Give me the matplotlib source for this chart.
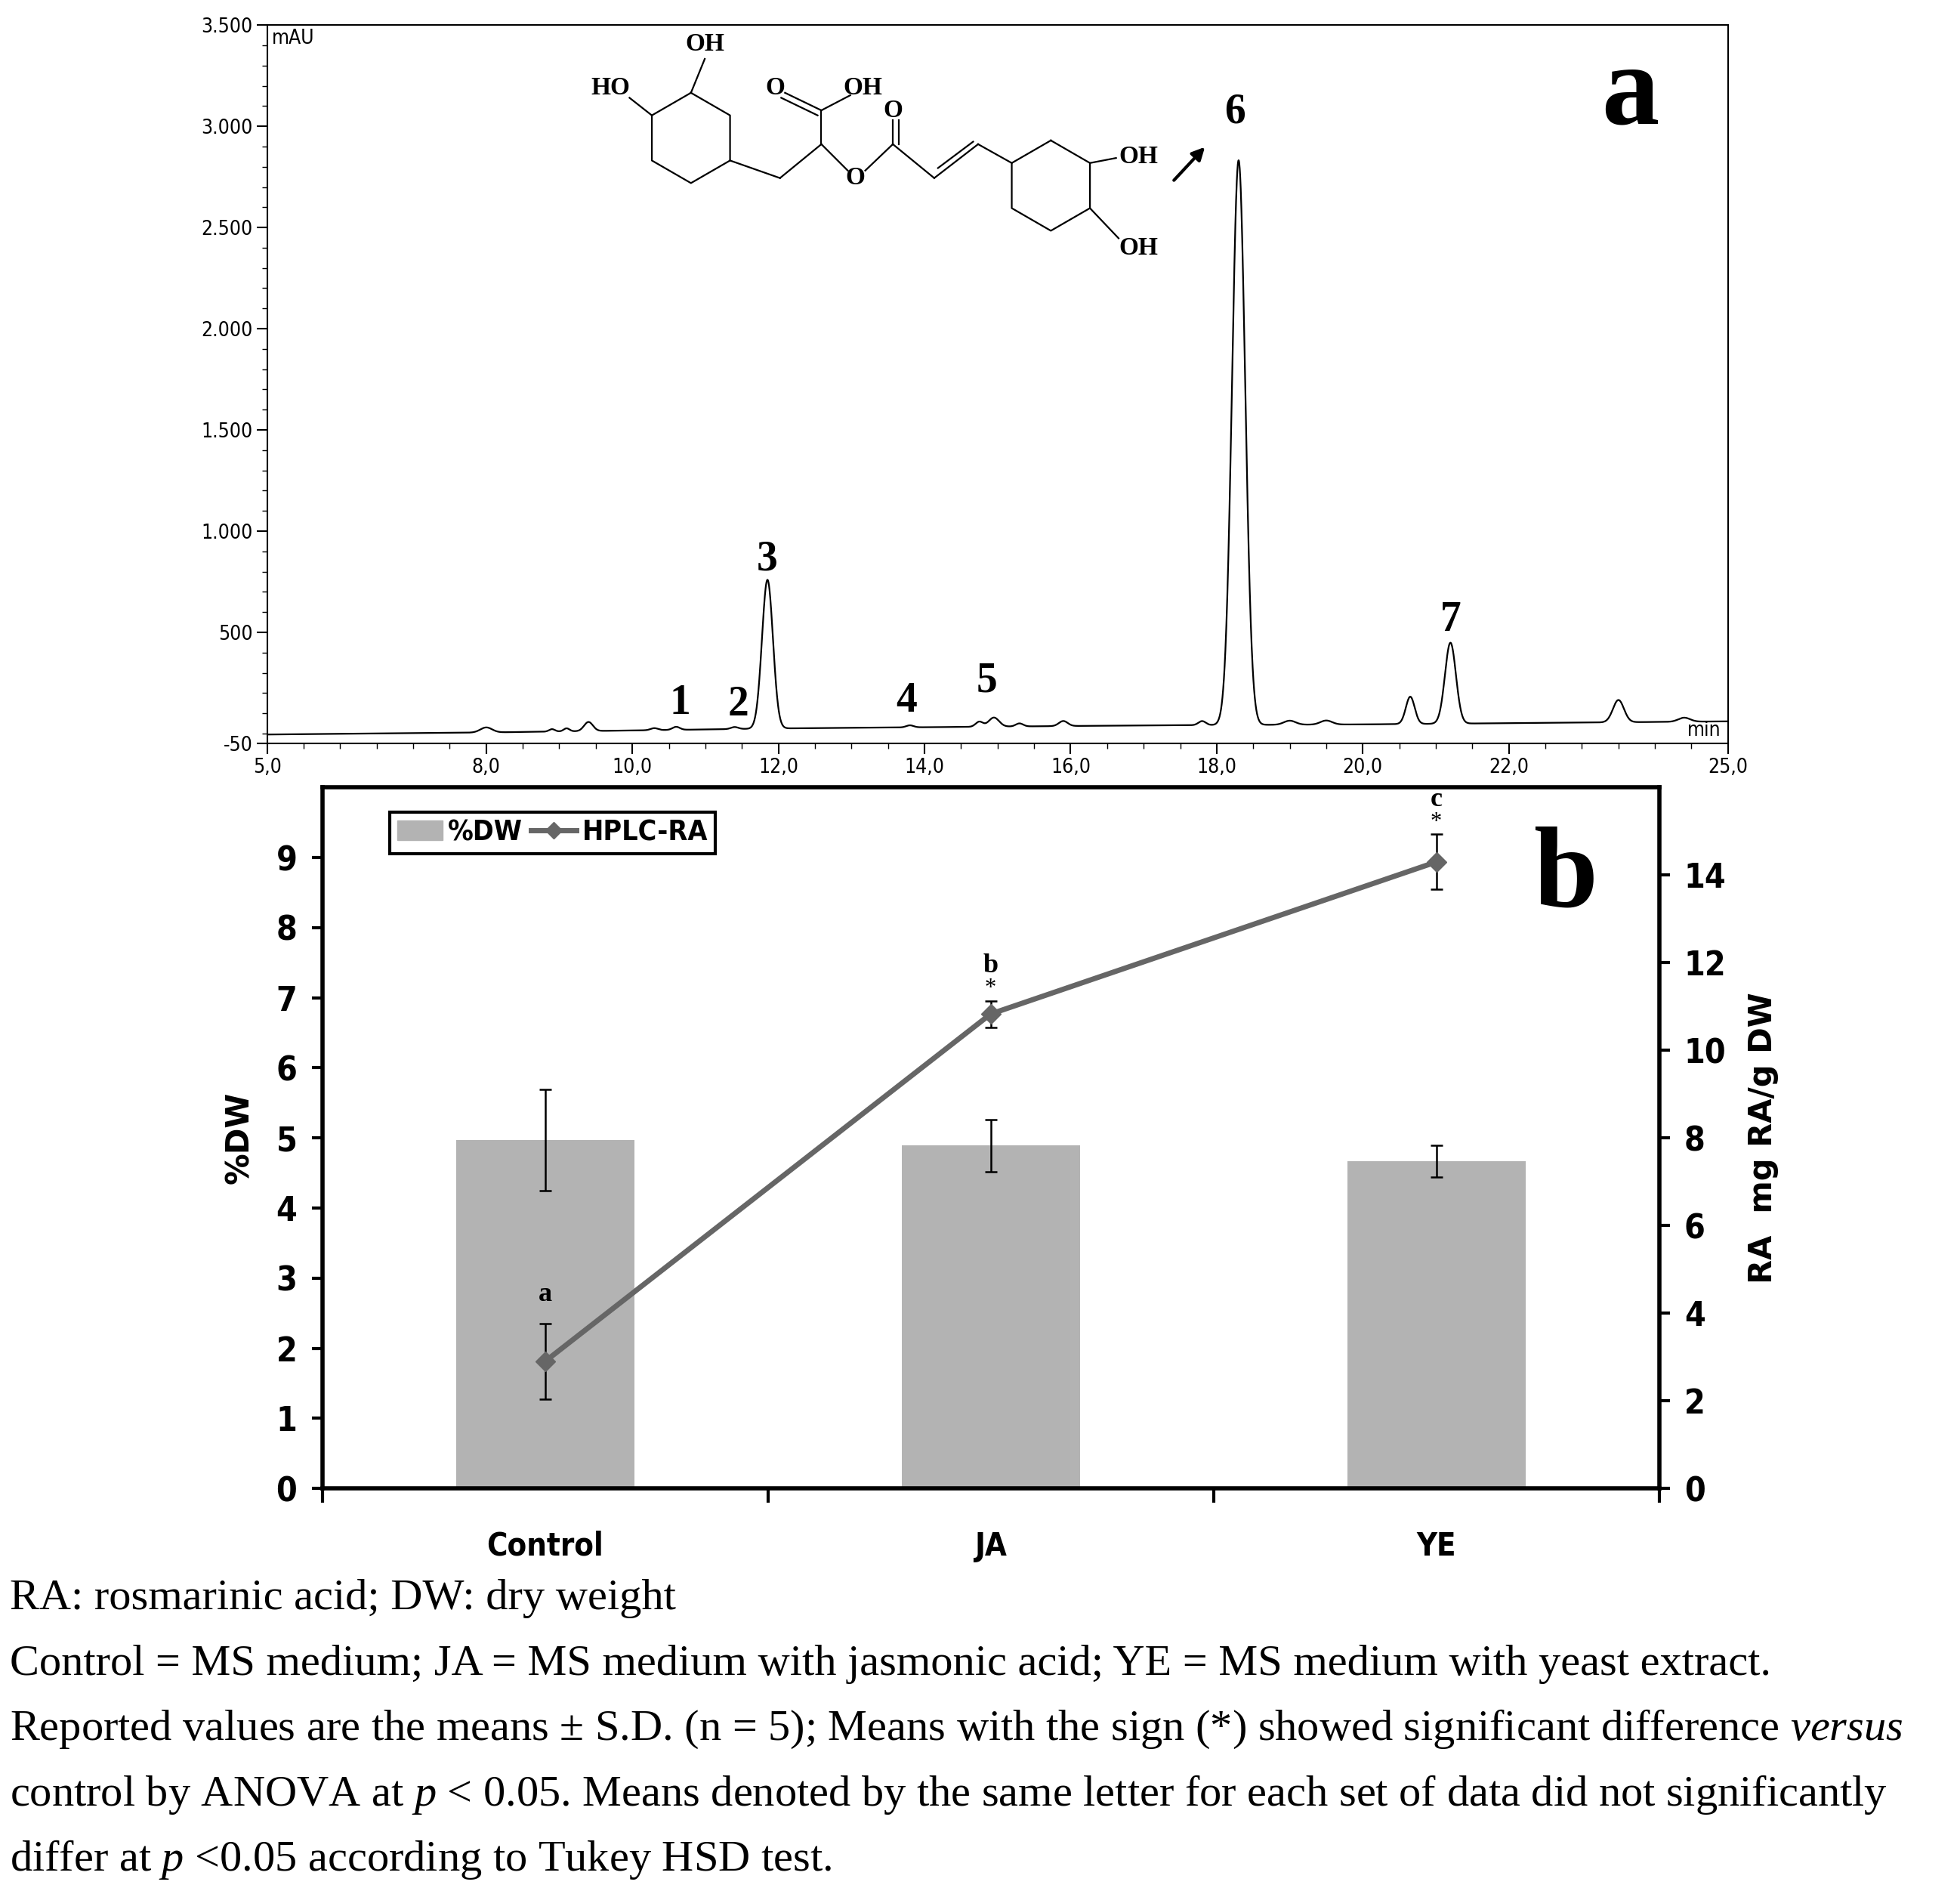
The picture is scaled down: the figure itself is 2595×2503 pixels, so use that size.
import numpy as np
import matplotlib.pyplot as plt
from matplotlib.patches import Patch
from matplotlib.lines import Line2D

plt.rcParams['mathtext.fontset'] = 'custom'
plt.rcParams['mathtext.rm'] = 'Liberation Serif'
plt.rcParams['mathtext.it'] = 'Liberation Serif:italic'

# --- chromatogram (panel a) ---
peak_time = [8.0, 8.9, 9.1, 9.4, 10.3, 10.6, 11.4, 11.85, 13.8, 14.75, 14.95, 15.3, 15.9,
             17.8, 18.3, 19.0, 19.5, 20.65, 21.2, 23.5, 24.4]
peak_height = [25, 12, 15, 45, 10, 15, 10, 735, 10, 25, 45, 15, 25,
               20, 2790, 20, 20, 135, 400, 110, 20]
peak_sigma = [0.08, 0.04, 0.04, 0.06, 0.05, 0.05, 0.05, 0.075, 0.05, 0.05, 0.07, 0.05, 0.06,
              0.05, 0.09, 0.08, 0.08, 0.06, 0.075, 0.075, 0.08]
base_time = [5.0, 8.0, 12.0, 17.0, 20.0, 25.0]
base_level = [-5, 5, 25, 40, 45, 60]
peak_labels = ['1', '2', '3', '4', '5', '6', '7']
label_time = [10.65, 11.45, 11.85, 13.75, 14.85, 18.25, 21.2]
label_level = [150, 140, 860, 160, 260, 3070, 560]

# --- bar / line data (panel b) ---
categories = ['Control', 'JA', 'YE']
dw_mean = [4.97, 4.89, 4.67]
dw_sd = [0.72, 0.37, 0.23]
ra_mean = [2.9, 10.83, 14.3]
ra_sd = [0.86, 0.3, 0.63]
ra_letters = ['a', 'b*', 'c*']

W, H = 2595, 2503
fig = plt.figure(figsize=(W / 100, H / 100), dpi=100)
DW, DH = 1563.0, 1508.0


def frac(x0, y0, x1, y1):
    return [x0 / DW, 1 - y1 / DH, (x1 - x0) / DW, (y1 - y0) / DH]


narrow = dict(fontfamily='DejaVu Sans', fontstretch='condensed')

ax = fig.add_axes(frac(213, 20, 1378, 593))
t = np.linspace(5, 25, 6000)
sig = np.interp(t, base_time, base_level)
for c, h, s in zip(peak_time, peak_height, peak_sigma):
    sig = sig + h * np.exp(-0.5 * ((t - c) / s) ** 2)
ax.plot(t, sig, color='black', lw=1.6)
ax.set_xlim(5, 25)
ax.set_ylim(-50, 3500)
ax.set_xticks([5, 8, 10, 12, 14, 16, 18, 20, 22, 25])
ax.set_xticklabels(['5,0', '8,0', '10,0', '12,0', '14,0', '16,0', '18,0', '20,0', '22,0', '25,0'])
ax.set_xticks(np.arange(5, 25, 0.5), minor=True)
ax.set_yticks([-50, 500, 1000, 1500, 2000, 2500, 3000, 3500])
ax.set_yticklabels(['-50', '500', '1.000', '1.500', '2.000', '2.500', '3.000', '3.500'])
ax.set_yticks(np.arange(0, 3500, 100), minor=True)
ax.tick_params(labelsize=19, direction='out', length=10, width=1.5)
ax.tick_params(which='minor', length=5, width=1)
for lb in ax.get_xticklabels() + ax.get_yticklabels():
    lb.set(**narrow)
for sp in ax.spines.values():
    sp.set_linewidth(1.5)
ax.text(0.003, 0.995, 'mAU', transform=ax.transAxes, fontsize=19, va='top', **narrow)
ax.text(0.995, 0.005, 'min', transform=ax.transAxes, fontsize=19, va='bottom', ha='right', **narrow)
for lab, x, y in zip(peak_labels, label_time, label_level):
    ax.text(x, y, lab, fontsize=40, family='Liberation Serif', weight='bold', ha='center', va='center')
ax.text(23.66, 3150, 'a', fontsize=110, family='Liberation Serif', weight='bold', ha='center', va='center')

# --- panel b ---
bx = fig.add_axes(frac(257, 628, 1323, 1187))
xs = np.arange(len(categories))
bx.bar(xs, dw_mean, width=0.4, color='#b3b3b3', zorder=1)
bx.errorbar(xs, dw_mean, yerr=dw_sd, fmt='none', ecolor='black', elinewidth=1.8, capsize=6, capthick=1.8, zorder=2)
bx.set_xlim(-0.5, 2.5)
bx.set_ylim(0, 10)
bx.set_yticks(range(0, 10))
bx.set_xticks([-0.5, 0.5, 1.5, 2.5])
bx.set_xticklabels([])
bx.set_xticks(xs, minor=True)
bx.set_xticklabels(categories, minor=True)
bx.tick_params(axis='x', which='minor', length=0, pad=40, labelsize=30)
bx.tick_params(axis='x', which='major', length=14, width=3)
bx.tick_params(axis='y', labelsize=32, length=10, width=3, pad=14)
bx.set_ylabel('%DW', fontsize=30, weight='bold', labelpad=20)
for lb in bx.get_xticklabels(minor=True) + bx.get_yticklabels():
    lb.set(**narrow)
    lb.set_fontweight('bold')
for sp in bx.spines.values():
    sp.set_linewidth(4)

bx2 = bx.twinx()
bx2.errorbar(xs, ra_mean, yerr=ra_sd, color='#666666', lw=5, marker='D', ms=13,
             ecolor='black', elinewidth=1.8, capsize=6, capthick=1.8, zorder=3)
bx2.set_ylim(0, 16)
bx2.set_yticks(range(0, 16, 2))
bx2.tick_params(axis='y', labelsize=32, length=10, width=3, pad=14)
for lb in bx2.get_yticklabels():
    lb.set(**narrow)
    lb.set_fontweight('bold')
bx2.set_ylabel('RA  mg RA/g DW', fontsize=30, weight='bold', labelpad=20)
for i, lab in enumerate(ra_letters):
    top = ra_mean[i] + ra_sd[i]
    if lab.endswith('*'):
        bx2.annotate('*', (xs[i], top), xytext=(0, 6), textcoords='offset points', ha='center',
                     fontsize=22, family='Liberation Serif')
        bx2.annotate(lab[0], (xs[i], top), xytext=(0, 27), textcoords='offset points', ha='center',
                     fontsize=26, family='Liberation Serif', weight='bold')
    else:
        bx2.annotate(lab, (xs[i], top), xytext=(0, 22), textcoords='offset points', ha='center',
                     fontsize=26, family='Liberation Serif', weight='bold')
bx2.text(2.29, 8.7, 'b', transform=bx.transData, fontsize=110, family='Liberation Serif',
         weight='bold', ha='center', va='center')
handles = [Patch(color='#b3b3b3'), Line2D([0], [0], color='#666666', lw=5, marker='D', ms=11)]
leg = bx2.legend(handles, ['%DW', 'HPLC-RA'], loc='upper left', ncol=2, bbox_to_anchor=(0.04, 0.985),
                 prop={'family': 'DejaVu Sans', 'stretch': 'condensed', 'weight': 'bold', 'size': 27},
                 fancybox=False, edgecolor='black', handlelength=1.6, handletextpad=0.2,
                 columnspacing=0.3, borderpad=0.25, framealpha=1)
leg.get_frame().set_linewidth(3)

# --- molecule sketch and caption (overlay in display coords) ---
ov = fig.add_axes([0, 0, 1, 1], facecolor='none')
ov.set_xlim(0, DW)
ov.set_ylim(DH, 0)
ov.axis('off')


def ring(cx, cy, r):
    ang = np.radians([90, 30, -30, -90, -150, 150, 90])
    px, py = cx + r * np.cos(ang), cy - r * np.sin(ang)
    ov.plot(px, py, color='black', lw=1.6)
    return list(zip(px[:-1], py[:-1]))


v1 = ring(551, 110, 36)
v2 = ring(838, 148, 36)
segs = [[v1[0], (562, 47)], [v1[5], (502, 78)], [v1[2], (622, 142)], [(622, 142), (655, 115)],
        [(655, 115), (655, 88)], [(655, 88), (626, 74)], [(652, 92), (623, 78)], [(655, 88), (678, 76)],
        [(655, 115), (676, 136)], [(690, 136), (712, 115)], [(712, 115), (712, 96)], [(717, 115), (717, 96)],
        [(712, 115), (745, 142)], [(745, 142), (780, 115)], [(748, 134), (776, 113)],
        [(780, 115), v2[5]], [v2[1], (890, 126)], [v2[2], (892, 190)]]
for (x0, y0), (x1, y1) in segs:
    ov.plot([x0, x1], [y0, y1], color='black', lw=1.6)
for s, x, y in [('OH', 562, 35), ('HO', 487, 70), ('O', 618, 70), ('OH', 688, 70), ('O', 682, 142),
                ('O', 712, 88), ('OH', 908, 125), ('OH', 908, 198)]:
    ov.text(x, y, s, fontsize=24, weight='bold', family='Liberation Serif', ha='center', va='center')
ov.annotate('', xy=(962, 116), xytext=(935, 145),
            arrowprops=dict(arrowstyle='-|>', color='black', lw=3, mutation_scale=25))

caption = [
    'RA: rosmarinic acid; DW: dry weight',
    'Control = MS medium; JA = MS medium with jasmonic acid; YE = MS medium with yeast extract.',
    r'Reported values are the means $\pm$ S.D. (n = 5); Means with the sign (*) showed significant difference $\it{versus}$',
    r'control by ANOVA at $\it{p}$ < 0.05. Means denoted by the same letter for each set of data did not significantly',
    r'differ at $\it{p}$ <0.05 according to Tukey HSD test.',
]
cap_y = [1275, 1327, 1379, 1431, 1483]
for s, y in zip(caption, cap_y):
    ov.text(8, y, s, fontsize=42, family='Liberation Serif', va='center', ha='left')

fig.savefig('out.png', dpi=100)
